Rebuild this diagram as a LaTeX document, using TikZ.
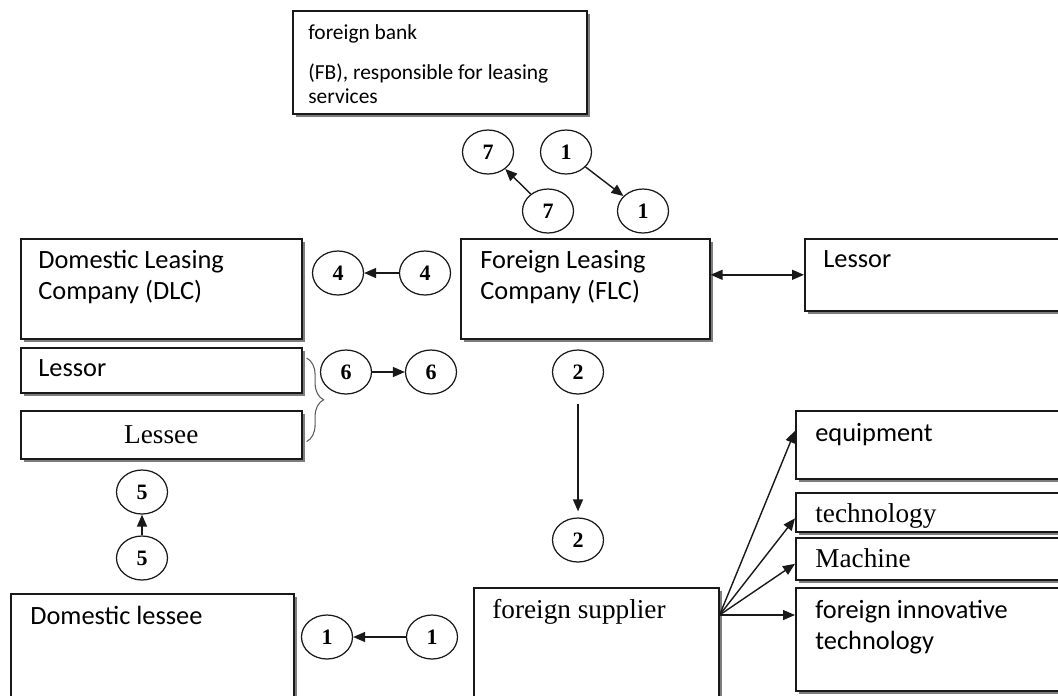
\documentclass[tikz,border=0pt]{standalone}
\usepackage{fontspec}
\setmainfont{Carlito}
\newfontfamily\cambria{Liberation Serif}
\usetikzlibrary{positioning,arrows.meta,shadows,shapes.geometric,decorations.pathreplacing}
\definecolor{lsLine}{RGB}{25,25,25}
\definecolor{lsShade}{RGB}{125,125,125}
\definecolor{lsBrace}{RGB}{90,90,90}
\tikzset{
    box/.style={rectangle, draw=lsLine, line width=0.9pt, fill=white, anchor=north west,
                inner sep=0pt,
                drop shadow={shadow xshift=0.7mm, shadow yshift=-0.7mm, fill=lsShade, opacity=1}},
    num/.style={ellipse, draw=lsLine, line width=0.7pt, fill=white, minimum width=1.02cm,
                minimum height=0.88cm, inner sep=0pt,
                font=\cambria\bfseries\fontsize{12.5}{12.5}\selectfont},
    calib/.style={inner sep=0pt, align=left, font=\fontsize{15}{17.6}\selectfont},
    small/.style={inner sep=0pt, align=left, font=\fontsize{12.2}{13.8}\selectfont},
    serif/.style={inner sep=0pt, align=left, font=\cambria\fontsize{15.5}{18}\selectfont},
    flow/.style={-{Triangle[length=2.4mm,width=2mm]}, line width=0.8pt, draw=lsLine},
    both/.style={{Triangle[length=2.4mm,width=2mm]}-{Triangle[length=2.4mm,width=2mm]},
                 line width=0.8pt, draw=lsLine}
}

\begin{document}
\begin{tikzpicture}
  \path[use as bounding box, clip] (0,0) rectangle (21.16,-13.9);

  % Foreign bank
  \node[box, minimum width=5.88cm, minimum height=2.06cm] (fb) at (5.84,-0.2) {};
  \node[small, below right=0.28cm and 0.32cm of fb.north west] (fbtext)
    {foreign bank\\[0.75em](FB), responsible for leasing\\services};

  % Left column
  \node[box, minimum width=5.62cm, minimum height=2.0cm] (dlc) at (0.4,-4.76) {};
  \node[calib, below right=0.24cm and 0.36cm of dlc.north west] (dlctext)
    {Domestic Leasing\\Company (DLC)};
  \node[box, minimum width=5.62cm, minimum height=0.9cm] (lsl) at (0.4,-6.94) {};
  \node[calib, below right=0.24cm and 0.36cm of lsl.north west] (lsltext) {Lessor};
  \node[box, minimum width=5.62cm, minimum height=0.96cm] (lsee) at (0.4,-8.2) {};
  \node[serif] (lseetext) at (lsee.center) {Lessee};
  \node[box, minimum width=5.66cm, minimum height=2.6cm] (dl) at (0.2,-11.86) {};
  \node[calib, below right=0.26cm and 0.4cm of dl.north west] (dltext) {Domestic lessee};

  % Middle column
  \node[box, minimum width=4.98cm, minimum height=2.0cm] (flc) at (9.2,-4.76) {};
  \node[calib, below right=0.24cm and 0.4cm of flc.north west] (flctext)
    {Foreign Leasing\\Company (FLC)};
  \node[box, minimum width=4.9cm, minimum height=2.6cm] (fs) at (9.46,-11.74) {};
  \node[serif, below right=0.24cm and 0.38cm of fs.north west] (fstext) {foreign supplier};

  % Right column
  \node[box, minimum width=5.6cm, minimum height=1.44cm] (lsr) at (16.08,-4.76) {};
  \node[calib, below right=0.24cm and 0.38cm of lsr.north west] (lsrtext) {Lessor};
  \node[box, minimum width=5.6cm, minimum height=1.36cm] (equip) at (15.9,-8.2) {};
  \node[calib, below right=0.26cm and 0.4cm of equip.north west] (equiptext) {equipment};
  \node[box, minimum width=5.6cm, minimum height=0.78cm] (tech) at (15.9,-9.84) {};
  \node[serif, below right=0.22cm and 0.4cm of tech.north west] (techtext) {technology};
  \node[box, minimum width=5.6cm, minimum height=0.84cm] (mach) at (15.9,-10.74) {};
  \node[serif, below right=0.22cm and 0.4cm of mach.north west] (machtext) {Machine};
  \node[box, minimum width=5.6cm, minimum height=2.06cm] (fit) at (15.9,-11.74) {};
  \node[calib, below right=0.26cm and 0.4cm of fit.north west] (fittext)
    {foreign innovative\\technology};

  % Numbered steps
  \node[num] (n7a) at (9.76,-3.04) {7};
  \node[num] (n1a) at (11.32,-3.04) {1};
  \node[num] (n7b) at (10.96,-4.22) {7};
  \node[num] (n1b) at (12.86,-4.22) {1};
  \node[num] (n4a) at (6.76,-5.46) {4};
  \node[num] (n4b) at (8.5,-5.46) {4};
  \node[num] (n6a) at (6.92,-7.44) {6};
  \node[num] (n6b) at (8.62,-7.44) {6};
  \node[num] (n2a) at (11.56,-7.44) {2};
  \node[num] (n2b) at (11.56,-10.8) {2};
  \node[num] (n5a) at (2.84,-9.84) {5};
  \node[num] (n5b) at (2.84,-11.16) {5};
  \node[num] (n1c) at (6.54,-12.74) {1};
  \node[num] (n1d) at (8.64,-12.74) {1};

  \draw[flow] (n7b) -- (n7a);
  \draw[flow] (n1a) -- (n1b);
  \draw[flow] (n4b) -- (n4a);
  \draw[flow] (n6a) -- (n6b);
  \draw[flow, shorten <=0.18cm, shorten >=0.12cm] (n2a) -- (n2b);
  \draw[flow] (n5b) -- (n5a);
  \draw[flow] (n1d) -- (n1c);
  \draw[both] (lsr.west -| flc.east) -- (lsr.west);

  % Lessor / Lessee brace
  \coordinate (brtop) at ([xshift=0.08cm, yshift=-0.22cm]lsl.north east);
  \coordinate (brbot) at ([xshift=0.08cm, yshift=0.36cm]lsee.south east);
  \draw[lsBrace, line width=0.6pt, decorate, decoration={brace, amplitude=0.34cm}]
    (brtop) -- (brbot);

  % Supplier outputs
  \coordinate (fsout) at ([yshift=-0.56cm]fs.north east);
  \draw[flow] (fsout) -- ([yshift=0.28cm]equip.west);
  \draw[flow] (fsout) -- ([yshift=-0.12cm]tech.west);
  \draw[flow] (fsout) -- ([yshift=-0.1cm]mach.west);
  \draw[flow] (fsout) -- (fsout -| fit.west);
\end{tikzpicture}
\end{document}
